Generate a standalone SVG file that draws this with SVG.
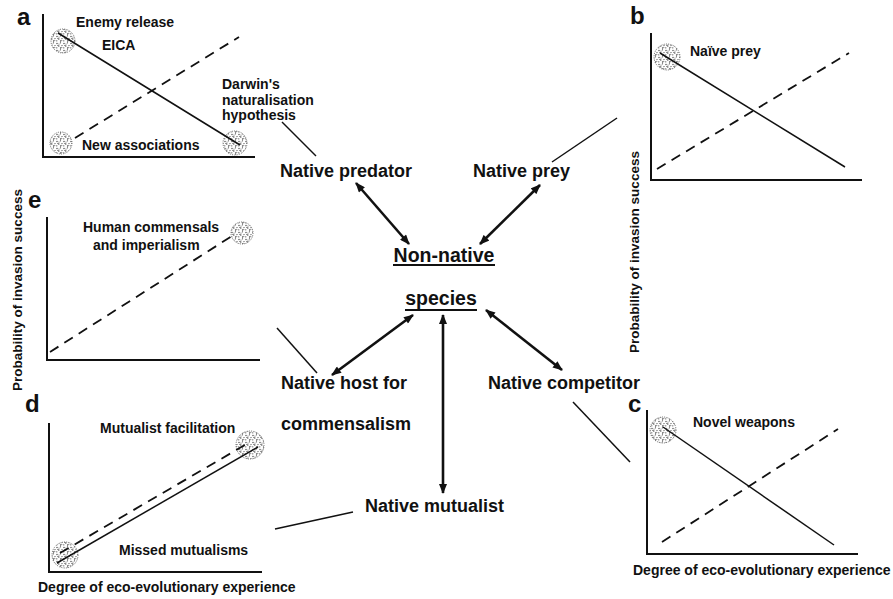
<svg xmlns="http://www.w3.org/2000/svg" width="893" height="599" viewBox="0 0 893 599">
<defs>
<style>
text{font-family:"Liberation Sans",Arial,sans-serif;font-weight:bold;fill:#111}
.node{font-size:18px}
.center{font-size:19.5px;text-anchor:middle}
.lbl{font-size:14px}
.ylab{font-size:13.5px;text-anchor:middle}
.letter{font-size:24px}
.axis{stroke:#111;stroke-width:2;fill:none}
.solid{stroke:#111;stroke-width:1.5}
.dash{stroke:#111;stroke-width:1.8;stroke-dasharray:10 7}
.arrow{stroke:#111;stroke-width:2.6;marker-start:url(#ah);marker-end:url(#ah)}
.conn{stroke:#111;stroke-width:1.5}
.ul{stroke:#111;stroke-width:2}
.blob{fill:url(#speckle);stroke:#555;stroke-width:0.9;stroke-dasharray:1 1.3}
</style>
<marker id="ah" viewBox="0 0 10 8" refX="9" refY="4" markerWidth="11" markerHeight="8" markerUnits="userSpaceOnUse" orient="auto-start-reverse">
<path d="M0,0 L10,4 L0,8 Z" fill="#111"/>
</marker>
<pattern id="speckle" width="7" height="7" patternUnits="userSpaceOnUse">
<rect width="7" height="7" fill="#fff"/>
<g fill="#444">
<circle cx="1" cy="1.5" r="0.7"/><circle cx="4.5" cy="0.8" r="0.6"/><circle cx="2.8" cy="4" r="0.7"/>
<circle cx="6" cy="3.5" r="0.6"/><circle cx="0.8" cy="5.8" r="0.6"/><circle cx="4.6" cy="6" r="0.7"/>
<circle cx="3" cy="2" r="0.5"/><circle cx="5.8" cy="5.2" r="0.5"/><circle cx="1.8" cy="3.6" r="0.5"/>
</g>
</pattern>
</defs>
<rect width="893" height="599" fill="#fff"/>

<g id="panel-a">
<text class="letter" x="17" y="25">a</text>
<path class="axis" d="M43,14 V157 H255"/>
<line class="dash" x1="75" y1="138" x2="239" y2="37"/>
<circle class="blob" cx="63" cy="41" r="12"/>
<circle class="blob" cx="61" cy="143" r="11"/>
<circle class="blob" cx="235" cy="143" r="12"/>
<line class="solid" x1="58" y1="33" x2="240" y2="145"/>
<text class="lbl" x="76" y="27">Enemy release</text>
<text class="lbl" x="102" y="50">EICA</text>
<text class="lbl" x="222" y="89">Darwin's</text>
<text class="lbl" x="222" y="105">naturalisation</text>
<text class="lbl" x="222" y="120">hypothesis</text>
<text class="lbl" x="82" y="150">New associations</text>
</g>

<g id="panel-b">
<text class="letter" x="630" y="24">b</text>
<path class="axis" d="M651,33 V180 H862"/>
<line class="dash" x1="657" y1="169" x2="849" y2="53"/>
<circle class="blob" cx="667" cy="57" r="13"/>
<line class="solid" x1="660" y1="53" x2="845" y2="167"/>
<text class="lbl" x="690" y="56">Naïve prey</text>
<text class="ylab" transform="translate(639,252) rotate(-90)">Probability of invasion success</text>
</g>

<g id="panel-e">
<text class="letter" x="28" y="208">e</text>
<path class="axis" d="M47,217 V360 H260"/>
<line class="dash" x1="50" y1="352" x2="232" y2="236"/>
<circle class="blob" cx="242" cy="233" r="11"/>
<text class="lbl" x="83" y="232">Human commensals</text>
<text class="lbl" x="93" y="250">and imperialism</text>
<text class="ylab" transform="translate(22,290) rotate(-90)">Probability of invasion success</text>
</g>

<g id="panel-d">
<text class="letter" x="25" y="412">d</text>
<path class="axis" d="M49,423 V572 H262"/>
<circle class="blob" cx="65" cy="555" r="13"/>
<circle class="blob" cx="250" cy="445" r="14"/>
<line class="dash" x1="60" y1="553" x2="250" y2="442"/>
<line class="solid" x1="57" y1="563" x2="258" y2="447"/>
<text class="lbl" x="100" y="433">Mutualist facilitation</text>
<text class="lbl" x="119" y="555">Missed mutualisms</text>
<text class="lbl" x="38" y="592">Degree of eco-evolutionary experience</text>
</g>

<g id="panel-c">
<text class="letter" x="628" y="412">c</text>
<path class="axis" d="M647,410 V554 H858"/>
<line class="dash" x1="662" y1="542" x2="838" y2="429"/>
<circle class="blob" cx="663" cy="430" r="13"/>
<line class="solid" x1="663" y1="427" x2="834" y2="545"/>
<text class="lbl" x="693" y="427">Novel weapons</text>
<text class="lbl" x="633" y="575">Degree of eco-evolutionary experience</text>
</g>

<g id="node-nonnative">
<text class="center" x="444" y="262">Non-native</text>
<line class="ul" x1="393" y1="265" x2="495" y2="265"/>
<text class="center" x="441" y="305">species</text>
<line class="ul" x1="405" y1="310" x2="477" y2="310"/>
</g>
<g id="node-predator"><text class="node" x="280" y="177">Native predator</text></g>
<g id="node-prey"><text class="node" x="473" y="177">Native prey</text></g>
<g id="node-host">
<text class="node" x="281" y="389">Native host for</text>
<text class="node" x="281" y="430">commensalism</text>
</g>
<g id="node-competitor"><text class="node" x="488" y="389">Native competitor</text></g>
<g id="node-mutualist"><text class="node" x="365" y="512">Native mutualist</text></g>

<g id="connectors">
<line class="arrow" x1="356" y1="183" x2="409" y2="244"/>
<line class="arrow" x1="540" y1="185" x2="480" y2="244"/>
<line class="arrow" x1="332" y1="375" x2="413" y2="315"/>
<line class="arrow" x1="486" y1="310" x2="562" y2="370"/>
<line class="arrow" x1="443" y1="315" x2="443" y2="493"/>
<line class="conn" x1="282" y1="122" x2="316" y2="156"/>
<line class="conn" x1="552" y1="162" x2="617" y2="118"/>
<line class="conn" x1="277" y1="328" x2="317" y2="373"/>
<line class="conn" x1="573" y1="402" x2="630" y2="462"/>
<line class="conn" x1="275" y1="529" x2="353" y2="512"/>
</g>
</svg>
